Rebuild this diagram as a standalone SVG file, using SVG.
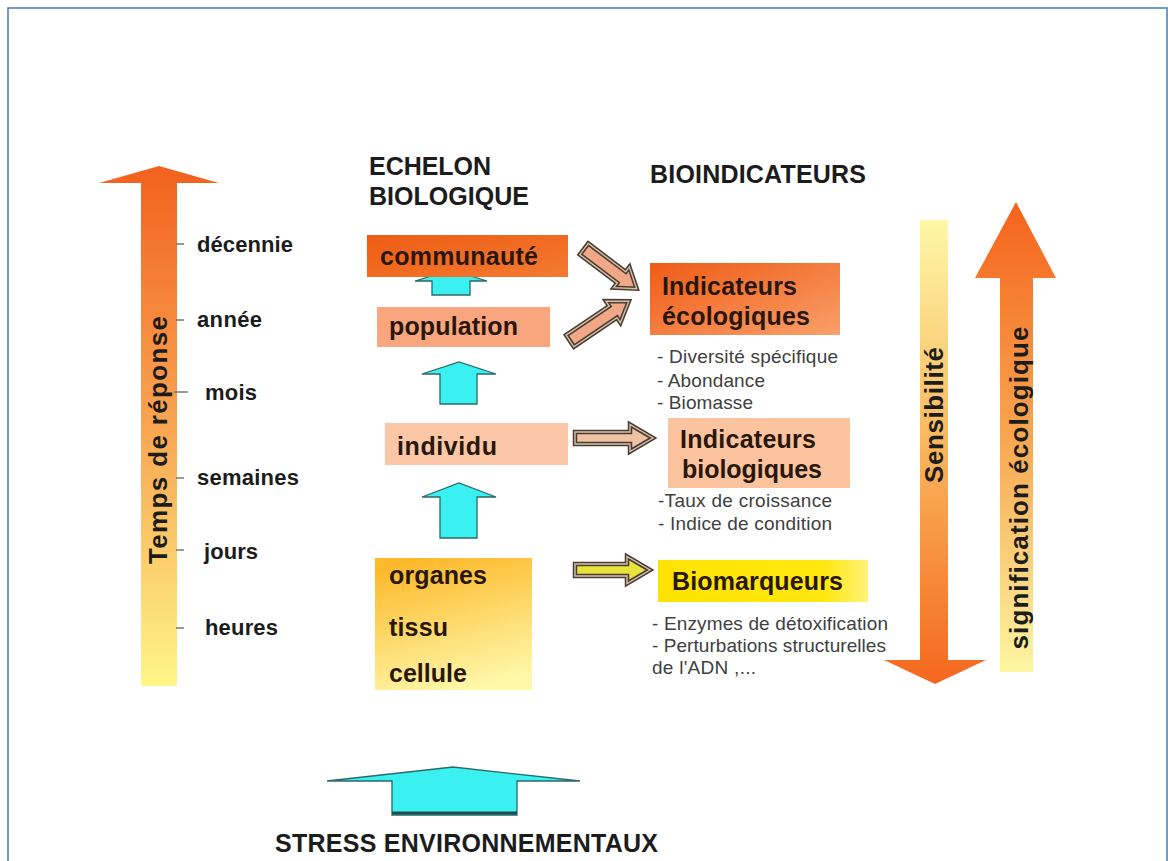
<svg xmlns="http://www.w3.org/2000/svg" xmlns:xlink="http://www.w3.org/1999/xlink" width="1168" height="861" viewBox="0 0 1168 861">
<defs>
<linearGradient id="gTime" x1="0" y1="0" x2="0" y2="1">
<stop offset="0" stop-color="#f2611e"/><stop offset="0.5" stop-color="#f9a552"/><stop offset="1" stop-color="#fef686"/>
</linearGradient>
<linearGradient id="gDown" x1="0" y1="0" x2="0" y2="1">
<stop offset="0" stop-color="#fdf8a8"/><stop offset="0.5" stop-color="#f9b45a"/><stop offset="1" stop-color="#f5661e"/>
</linearGradient>
<linearGradient id="gUp" x1="0" y1="0" x2="0" y2="1">
<stop offset="0" stop-color="#f5631c"/><stop offset="0.5" stop-color="#f8a650"/><stop offset="1" stop-color="#fdf6a2"/>
</linearGradient>
<linearGradient id="gComm" x1="0" y1="0" x2="1" y2="1">
<stop offset="0" stop-color="#ee5c14"/><stop offset="1" stop-color="#f47a30"/>
</linearGradient>
<linearGradient id="gEco" x1="0" y1="0" x2="1" y2="1">
<stop offset="0" stop-color="#ef5c15"/><stop offset="1" stop-color="#fa9f6a"/>
</linearGradient>
<linearGradient id="gOrg" x1="0.3" y1="0" x2="0.6" y2="1">
<stop offset="0" stop-color="#fdb92a"/><stop offset="1" stop-color="#fff8aa"/>
</linearGradient>
<linearGradient id="gBiom" x1="0" y1="0" x2="1" y2="0">
<stop offset="0" stop-color="#ffe300"/><stop offset="0.8" stop-color="#ffe810"/><stop offset="1" stop-color="#fff27a"/>
</linearGradient>
<path id="diag1" d="M0,-7 H47 V-13 L66,0 L47,13 V7 H0 Z"/>
<path id="diag2" d="M0,-7 H52 V-13 L71,0 L52,13 V7 H0 Z"/>
<path id="hor1" d="M0,-6 H55 V-13.5 L78,0 L55,13.5 V6 H0 Z"/>
<path id="hor2" d="M0,-6 H52 V-13.5 L75,0 L52,13.5 V6 H0 Z"/>
</defs>
<style>
.lbl{font-family:"Liberation Sans",Arial,sans-serif;font-weight:bold;fill:#1c1c1c}
.box{font-family:"Liberation Sans",Arial,sans-serif;font-weight:bold;fill:#2a170c}
.bul{font-family:"Liberation Sans",Arial,sans-serif;font-size:19px;fill:#404040}
.cyan{fill:#3af0f0;stroke:#2a6a6a;stroke-width:1.3;stroke-linejoin:miter}
.outer{stroke:#4a3c32;stroke-width:4.5;stroke-linejoin:miter}
.inner{fill:none;stroke:#d6c0aa;stroke-width:1.4;stroke-linejoin:miter}
.tick{stroke:#777;stroke-width:1.5}
</style>
<rect x="0" y="0" width="1168" height="861" fill="#ffffff"/>
<rect x="8" y="8" width="1159" height="900" fill="none" stroke="#4f81bd" stroke-width="1.6"/>

<g id="connectors">
<path class="cyan" d="M415,281 L451,270 L487,281 L470,281 L470,295 L432,295 L432,281 Z"/>
<path class="cyan" d="M422,374 L459,362 L496,374 L477,374 L477,404 L440,404 L440,374 Z"/>
<path class="cyan" d="M422,497 L459,483 L496,497 L477,497 L477,538 L440,538 L440,497 Z"/>
<g transform="translate(584,249) rotate(37)">
<use xlink:href="#diag1" class="outer" fill="#f2a886"/><use xlink:href="#diag1" class="inner"/>
</g>
<g transform="translate(570,341) rotate(-34)">
<use xlink:href="#diag2" class="outer" fill="#f2a886"/><use xlink:href="#diag2" class="inner"/>
</g>
<g transform="translate(575,438)">
<use xlink:href="#hor1" class="outer" fill="#eec2a2"/><use xlink:href="#hor1" class="inner"/>
</g>
<g transform="translate(575,570)">
<use xlink:href="#hor2" class="outer" fill="#e8e23c"/><use xlink:href="#hor2" class="inner"/>
</g>
</g>

<g id="time-axis">
<path d="M141,183 L99,183 L159,166 L219,183 L177,183 L177,686 L141,686 Z" fill="url(#gTime)"/>
<line class="tick" x1="176" y1="244" x2="184" y2="244"/>
<line class="tick" x1="176" y1="320" x2="184" y2="320"/>
<line class="tick" x1="174" y1="392" x2="188" y2="392"/>
<line class="tick" x1="176" y1="478" x2="184" y2="478"/>
<line class="tick" x1="176" y1="550" x2="184" y2="550"/>
<line class="tick" x1="176" y1="628" x2="184" y2="628"/>
<text class="lbl" font-size="26" text-anchor="middle" transform="translate(167,440) rotate(-90)" textLength="248">Temps de réponse</text>
<text class="lbl" font-size="22" x="197" y="252" textLength="96">décennie</text>
<text class="lbl" font-size="22" x="197" y="327" textLength="65">année</text>
<text class="lbl" font-size="22" x="205" y="400" textLength="52">mois</text>
<text class="lbl" font-size="22" x="197" y="485" textLength="102">semaines</text>
<text class="lbl" font-size="22" x="204" y="559" textLength="54">jours</text>
<text class="lbl" font-size="22" x="205" y="635" textLength="73">heures</text>
</g>

<g id="headers">
<text class="lbl" font-size="25" x="369" y="175" textLength="122">ECHELON</text>
<text class="lbl" font-size="25" x="369" y="205" textLength="160">BIOLOGIQUE</text>
<text class="lbl" font-size="25" x="650" y="183" textLength="216">BIOINDICATEURS</text>
</g>

<g id="communaute">
<rect x="367" y="235" width="201" height="42" fill="url(#gComm)"/>
<text class="box" font-size="25" x="380" y="265" textLength="158">communauté</text>
</g>
<g id="population">
<rect x="377" y="307" width="173" height="40" fill="#f9a67e"/>
<text class="box" font-size="25" x="389" y="335" textLength="129">population</text>
</g>
<g id="individu">
<rect x="385" y="423" width="183" height="42" fill="#fbc7a6"/>
<text class="box" font-size="25" x="397" y="455" textLength="100">individu</text>
</g>
<g id="organes">
<rect x="375" y="558" width="157" height="132" fill="url(#gOrg)"/>
<text class="box" font-size="25" x="389" y="584" textLength="98">organes</text>
<text class="box" font-size="25" x="389" y="636" textLength="59">tissu</text>
<text class="box" font-size="25" x="389" y="682" textLength="78">cellule</text>
</g>

<g id="indicateurs-ecologiques">
<rect x="650" y="263" width="190" height="72" fill="url(#gEco)"/>
<text class="box" font-size="25" x="662" y="295" textLength="135">Indicateurs</text>
<text class="box" font-size="25" x="662" y="325" textLength="148">écologiques</text>
<text class="bul" x="657" y="363" textLength="181">- Diversité spécifique</text>
<text class="bul" x="657" y="387" textLength="108">- Abondance</text>
<text class="bul" x="657" y="409" textLength="96">- Biomasse</text>
</g>
<g id="indicateurs-biologiques">
<rect x="668" y="418" width="182" height="70" fill="#fbc39e"/>
<text class="box" font-size="25" x="680" y="448" textLength="136">Indicateurs</text>
<text class="box" font-size="25" x="682" y="478" textLength="140">biologiques</text>
<text class="bul" x="658" y="507" textLength="174">-Taux de croissance</text>
<text class="bul" x="658" y="530" textLength="174">- Indice de condition</text>
</g>
<g id="biomarqueurs">
<rect x="658" y="560" width="210" height="42" fill="url(#gBiom)"/>
<text class="box" font-size="25" x="672" y="590" textLength="171">Biomarqueurs</text>
<text class="bul" x="652" y="630" textLength="236">- Enzymes de détoxification</text>
<text class="bul" x="652" y="652" textLength="234">- Perturbations structurelles</text>
<text class="bul" x="652" y="674" textLength="104">de l'ADN ,...</text>
</g>

<g id="sensibilite">
<path d="M920,220 L948,220 L948,660 L986,660 L935,684 L884,660 L920,660 Z" fill="url(#gDown)"/>
<text class="lbl" font-size="26" text-anchor="middle" transform="translate(943,415) rotate(-90)" textLength="136">Sensibilité</text>
</g>
<g id="signification">
<path d="M1000,672 L1000,278 L975,278 L1016,202 L1056,278 L1033,278 L1033,672 Z" fill="url(#gUp)"/>
<text class="lbl" font-size="26" text-anchor="middle" transform="translate(1028,488) rotate(-90)" textLength="323">signification écologique</text>
</g>

<g id="stress">
<path class="cyan" d="M327,781 L453,767 L580,781 L517,781 L517,815 L392,815 L392,781 Z"/>
<line x1="392" y1="813" x2="517" y2="813" stroke="#1f4a4a" stroke-width="3"/>
<text class="lbl" font-size="25" x="275" y="852" textLength="383">STRESS ENVIRONNEMENTAUX</text>
</g>
</svg>
